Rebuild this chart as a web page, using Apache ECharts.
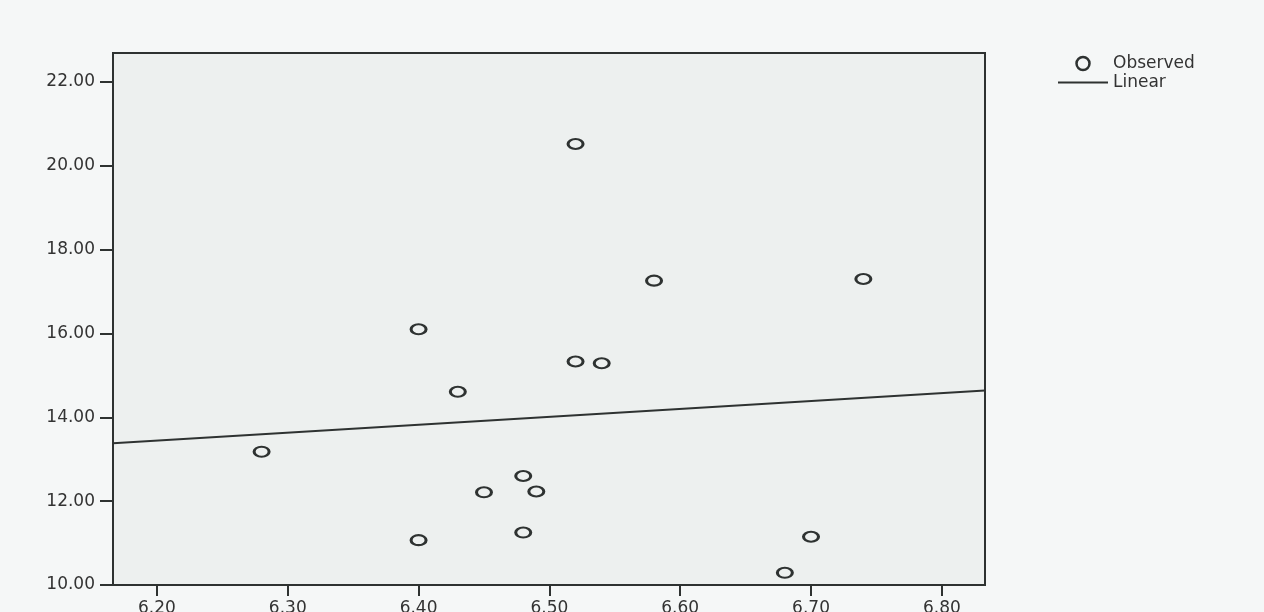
<!DOCTYPE html>
<html>
<head>
<meta charset="utf-8">
<script src="https://cdn.jsdelivr.net/npm/echarts@6/dist/echarts.min.js"></script>
<style>
html,body{margin:0;padding:0;background:#f5f7f7;}
#chart{width:1264px;height:612px;}
</style>
</head>
<body>
<div id="chart"></div>
<script>
// Observed points
var obsX = [6.28, 6.40, 6.40, 6.43, 6.45, 6.48, 6.48, 6.49, 6.52, 6.52, 6.54, 6.58, 6.68, 6.70, 6.74];
var obsY = [13.18, 16.10, 11.07, 14.61, 12.21, 12.60, 11.25, 12.23, 20.52, 15.33, 15.29, 17.26, 10.29, 11.15, 17.30];
// Linear fit line (drawn across the plot range)
var fitX = [6.1664, 6.833];
var fitY = [13.38, 14.64];
// Axis ticks
var xTicks = [6.2, 6.3, 6.4, 6.5, 6.6, 6.7, 6.8];
var yTicks = [10, 12, 14, 16, 18, 20, 22];
var xRange = [6.1664, 6.833];
var yRange = [10, 22.69];

var ink = '#2e3231';
var chart = echarts.init(document.getElementById('chart'), null, {renderer: 'canvas'});
var option = {
  backgroundColor: '#f5f7f7',
  animation: false,
  textStyle: {fontFamily: 'DejaVu Sans'},
  grid: {
    left: 113, right: 279, top: 53, bottom: 27,
    outerBoundsMode: 'none', containLabel: false,
    show: true, backgroundColor: '#edf0ef', borderColor: ink, borderWidth: 2
  },
  legend: {
    orient: 'vertical',
    left: 1057, top: 55, padding: 0,
    itemWidth: 50, itemHeight: 13, itemGap: 2,
    textStyle: {fontFamily: 'DejaVu Sans', fontSize: 17, lineHeight: 13, color: '#333'},
    data: [
      {name: 'Observed', icon: 'circle', itemStyle: {color: 'rgba(0,0,0,0)', borderColor: ink, borderWidth: 2.5}},
      {name: 'Linear', itemStyle: {color: 'rgba(0,0,0,0)', borderWidth: 0}}
    ]
  },
  xAxis: {
    type: 'value', min: xRange[0], max: xRange[1],
    axisLine: {show: true, lineStyle: {color: ink, width: 2}},
    axisTick: {show: true, length: 11, lineStyle: {color: ink, width: 2}, customValues: xTicks},
    axisLabel: {
      margin: 15, fontSize: 17, color: '#333', fontFamily: 'DejaVu Sans',
      customValues: xTicks,
      formatter: function (v) { return v.toFixed(2); }
    },
    splitLine: {show: false}
  },
  yAxis: {
    type: 'value', min: yRange[0], max: yRange[1],
    axisLine: {show: true, lineStyle: {color: ink, width: 2}},
    axisTick: {show: true, length: 13, lineStyle: {color: ink, width: 2}, customValues: yTicks},
    axisLabel: {
      margin: 18, fontSize: 17, color: '#333', fontFamily: 'DejaVu Sans',
      customValues: yTicks,
      formatter: function (v) { return v.toFixed(2); }
    },
    splitLine: {show: false}
  },
  series: [
    {
      name: 'Observed', type: 'scatter',
      symbol: 'circle', symbolSize: [15, 10],
      itemStyle: {color: 'rgba(0,0,0,0)', borderColor: ink, borderWidth: 2.5, opacity: 1},
      data: obsX.map(function (x, i) { return [x, obsY[i]]; }),
      z: 3
    },
    {
      name: 'Linear', type: 'line',
      symbol: 'none', silent: true,
      lineStyle: {color: ink, width: 2},
      itemStyle: {color: ink},
      data: fitX.map(function (x, i) { return [x, fitY[i]]; }),
      z: 2
    }
  ]
};
chart.setOption(option);
</script>
</body>
</html>
